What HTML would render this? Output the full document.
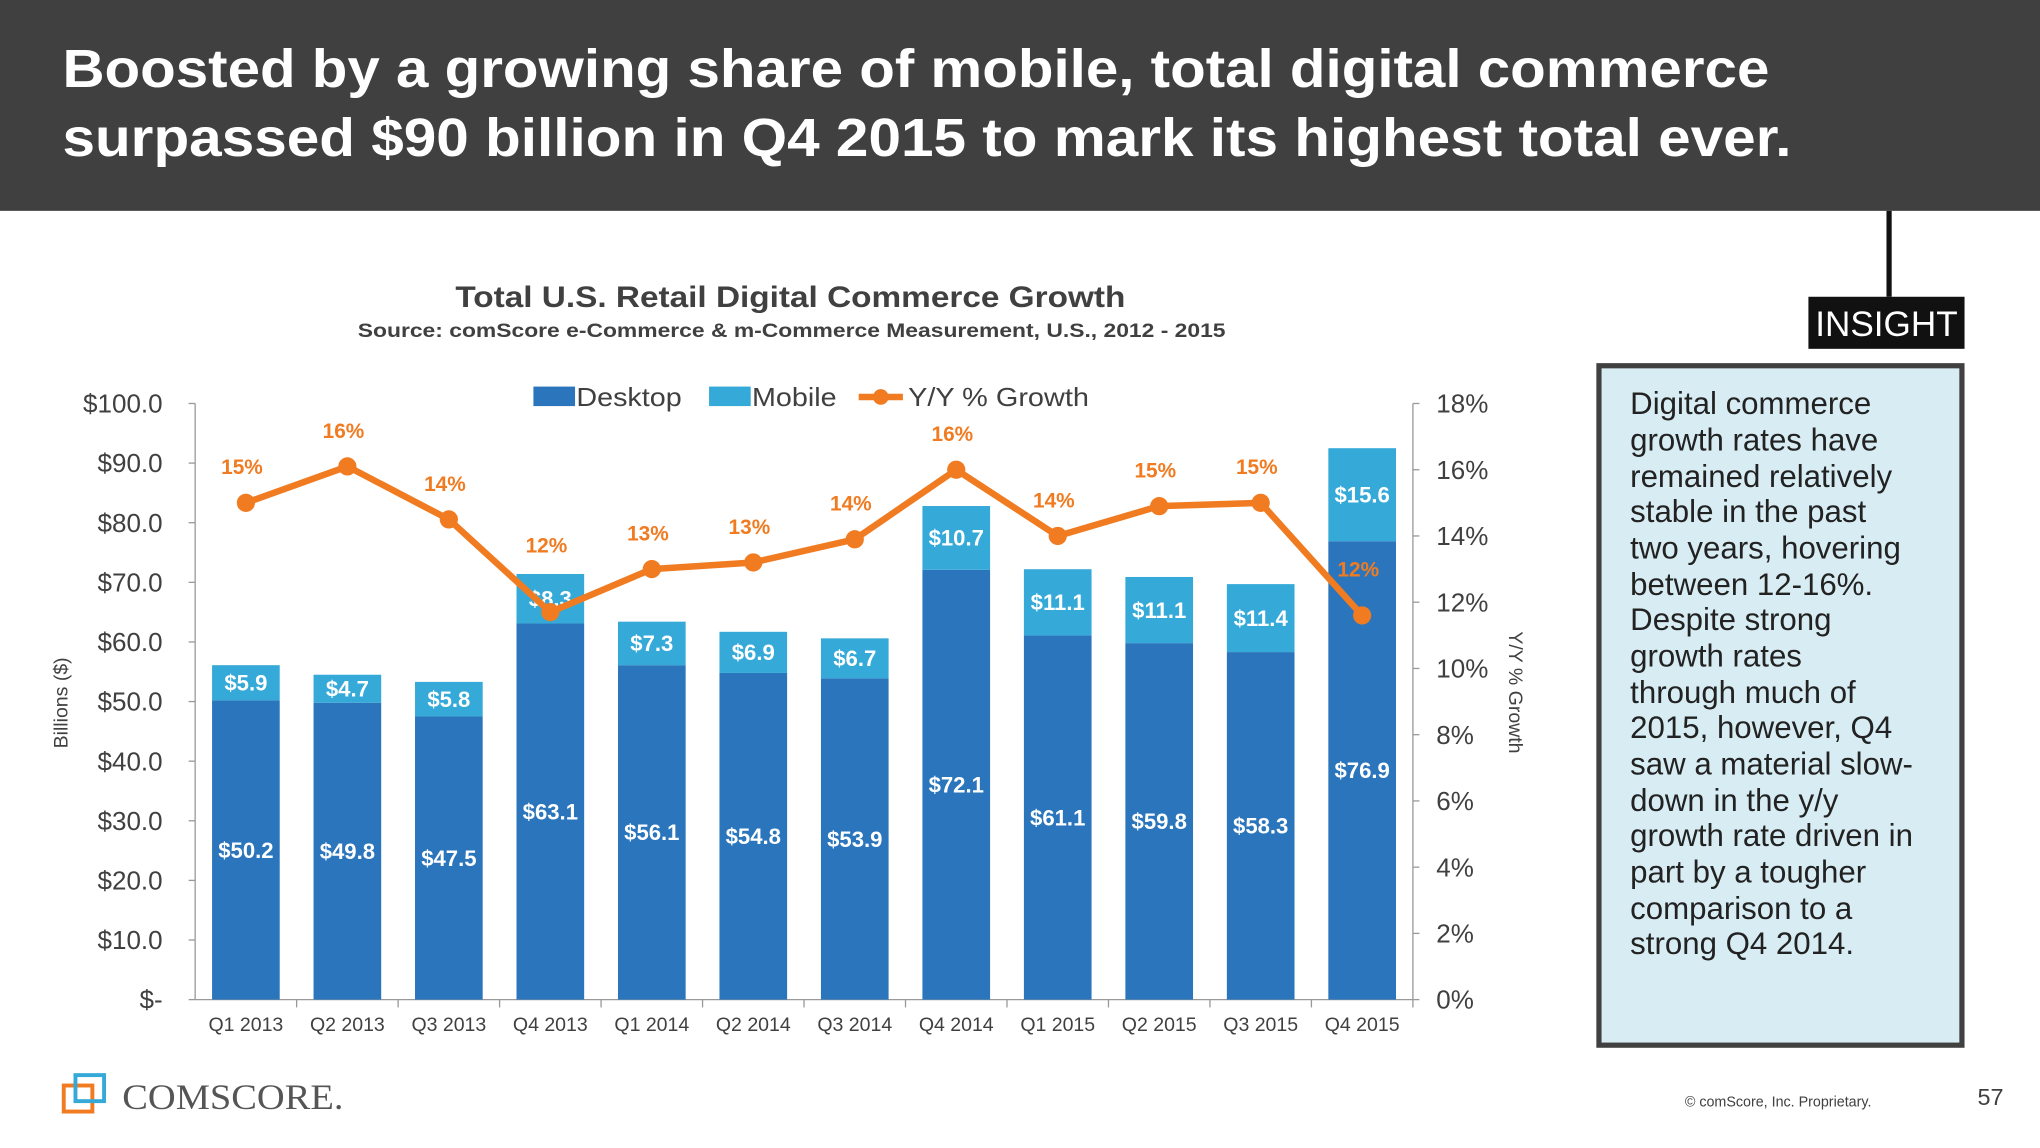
<!DOCTYPE html>
<html><head><meta charset="utf-8"><style>
html,body{margin:0;padding:0;background:#fff;}
svg{display:block;font-family:"Liberation Sans",Arial,sans-serif;}
</style></head><body>
<svg id="s" width="2040" height="1148" viewBox="0 0 1568 882" preserveAspectRatio="none">
<rect x="0" y="0" width="1568" height="162" fill="#404040"/>
<text x="48" y="67" font-size="41" font-weight="bold" fill="#fff" textLength="1312" lengthAdjust="spacingAndGlyphs">Boosted by a growing share of mobile, total digital commerce</text>
<text x="48" y="120" font-size="41" font-weight="bold" fill="#fff" textLength="1329" lengthAdjust="spacingAndGlyphs">surpassed $90 billion in Q4 2015 to mark its highest total ever.</text>
<text x="350" y="236" font-size="23" font-weight="bold" fill="#404040" textLength="515" lengthAdjust="spacingAndGlyphs">Total U.S. Retail Digital Commerce Growth</text>
<text x="275" y="259" font-size="15" font-weight="bold" fill="#404040" textLength="667" lengthAdjust="spacingAndGlyphs">Source: comScore e-Commerce &amp; m-Commerce Measurement, U.S., 2012 - 2015</text>
<g id="chart"></g>
<g>
<rect x="410" y="297" width="32" height="15" fill="#2a75bb"/>
<text x="443" y="312" font-size="20" fill="#404040" textLength="81" lengthAdjust="spacingAndGlyphs">Desktop</text>
<rect x="545" y="297" width="32" height="15" fill="#35a9d8"/>
<text x="578" y="312" font-size="20" fill="#404040" textLength="65" lengthAdjust="spacingAndGlyphs">Mobile</text>
<line x1="660" y1="305" x2="694" y2="305" stroke="#f07b21" stroke-width="5"/>
<circle cx="677" cy="305" r="6" fill="#f07b21"/>
<text x="698" y="312" font-size="20" fill="#404040" textLength="139" lengthAdjust="spacingAndGlyphs">Y/Y % Growth</text>
</g>
<text transform="translate(52,540) rotate(-90)" font-size="15" fill="#404040" text-anchor="middle">Billions ($)</text>
<text transform="translate(1160,532) rotate(90)" font-size="15" fill="#404040" text-anchor="middle">Y/Y % Growth</text>
<line x1="1452" y1="162" x2="1452" y2="228" stroke="#111" stroke-width="4"/>
<rect x="1390" y="228" width="120" height="40" fill="#111"/>
<text x="1450" y="258" font-size="27" fill="#fff" text-anchor="middle">INSIGHT</text>
<rect x="1229" y="281" width="279" height="522" fill="#d7ecf3" stroke="#404040" stroke-width="4"/>
<text font-size="24" fill="#222">
<tspan x="1253" y="318">Digital commerce</tspan><tspan x="1253" y="346">growth rates have</tspan><tspan x="1253" y="374">remained relatively</tspan><tspan x="1253" y="401">stable in the past</tspan><tspan x="1253" y="429">two years, hovering</tspan><tspan x="1253" y="457">between 12-16%.</tspan><tspan x="1253" y="484">Despite strong</tspan><tspan x="1253" y="512">growth rates</tspan><tspan x="1253" y="540">through much of</tspan><tspan x="1253" y="567">2015, however, Q4</tspan><tspan x="1253" y="595">saw a material slow-</tspan><tspan x="1253" y="623">down in the y/y</tspan><tspan x="1253" y="650">growth rate driven in</tspan><tspan x="1253" y="678">part by a tougher</tspan><tspan x="1253" y="706">comparison to a</tspan><tspan x="1253" y="733">strong Q4 2014.</tspan>
</text>
<g>
<rect x="49" y="834" width="22" height="20" fill="none" stroke="#f07b21" stroke-width="3"/>
<rect x="58" y="826" width="22" height="20" fill="none" stroke="#35a9d8" stroke-width="3"/>
<text x="94" y="852" font-size="28" fill="#555" font-family="Liberation Serif,serif" textLength="170" lengthAdjust="spacingAndGlyphs">COMSCORE.</text>
</g>
<text x="1295" y="850" font-size="11" fill="#404040">© comScore, Inc. Proprietary.</text>
<text x="1540" y="849" font-size="18" fill="#404040" text-anchor="end">57</text>
</svg>
<script>
const categories=["Q1 2013","Q2 2013","Q3 2013","Q4 2013","Q1 2014","Q2 2014","Q3 2014","Q4 2014","Q1 2015","Q2 2015","Q3 2015","Q4 2015"];
const desktop=[50.2,49.8,47.5,63.1,56.1,54.8,53.9,72.1,61.1,59.8,58.3,76.9];
const mobile=[5.9,4.7,5.8,8.3,7.3,6.9,6.7,10.7,11.1,11.1,11.4,15.6];
const growth=[15.0,16.1,14.5,11.7,13.0,13.2,13.9,16.0,14.0,14.9,15.0,11.6];
const growthLabels=["15%","16%","14%","12%","13%","13%","14%","16%","14%","15%","15%","12%"];
const leftTicks=["$-","$10.0","$20.0","$30.0","$40.0","$50.0","$60.0","$70.0","$80.0","$90.0","$100.0"];
const rightTicks=["0%","2%","4%","6%","8%","10%","12%","14%","16%","18%"];
const NS="http://www.w3.org/2000/svg";
const g=document.getElementById('chart');
const X0=150,X1=1086,Y0=768,Y1=310;
const bw=(X1-X0)/categories.length;
const y=v=>Y0-(v/100)*(Y0-Y1);
const y2=v=>Y0-(v/18)*(Y0-Y1);
const xc=i=>X0+bw*(i+0.5);
function mk(t,a){const e=document.createElementNS(NS,t);for(const k in a)e.setAttribute(k,a[k]);g.appendChild(e);return e;}
let e;
e=mk('line',{x1:X0,y1:Y1,x2:X0,y2:Y0,stroke:'#999'});


e=mk('line',{x1:X1,y1:Y1,x2:X1,y2:Y0,stroke:'#999'});


e=mk('line',{x1:X0,y1:Y0,x2:X1,y2:Y0,stroke:'#999'});


leftTicks.forEach((t,i)=>{const v=i*10;
 mk('line',{x1:X0-5,y1:y(v),x2:X0,y2:y(v),stroke:'#999'});
 e=mk('text',{x:125,y:y(v)+7,'font-size':20,fill:'#404040','text-anchor':'end'});e.textContent=t;
 
 });
rightTicks.forEach((t,i)=>{const v=i*2;
 mk('line',{x1:X1,y1:y2(v),x2:X1+5,y2:y2(v),stroke:'#999'});
 e=mk('text',{x:1104,y:y2(v)+7,'font-size':20,fill:'#404040'});e.textContent=t;
 
 });
categories.forEach((c,i)=>{
 mk('line',{x1:X0+bw*(i+1),y1:Y0,x2:X0+bw*(i+1),y2:Y0+6,stroke:'#999'});
 e=mk('text',{x:xc(i),y:792,'font-size':15,fill:'#404040','text-anchor':'middle'});e.textContent=c;
 
 
 const bx=xc(i)-26,w=52;
 e=mk('rect',{x:bx,y:y(desktop[i]),width:w,height:Y0-y(desktop[i]),fill:'#2a75bb'});
 
 
 const tot=desktop[i]+mobile[i];
 e=mk('rect',{x:bx,y:y(tot),width:w,height:y(desktop[i])-y(tot),fill:'#35a9d8'});
 
 
 e=mk('text',{x:xc(i),y:(y(desktop[i])+Y0)/2+6,'font-size':17,'font-weight':'bold',fill:'#fff','text-anchor':'middle'});e.textContent='$'+desktop[i].toFixed(1);
 
 
 e=mk('text',{x:xc(i),y:(y(tot)+y(desktop[i]))/2+6,'font-size':17,'font-weight':'bold',fill:'#fff','text-anchor':'middle'});e.textContent='$'+mobile[i].toFixed(1);
 
 
});
e=mk('polyline',{points:growth.map((v,i)=>xc(i)+','+y2(v)).join(' '),fill:'none',stroke:'#f07b21','stroke-width':5,'stroke-linejoin':'round'});


growth.forEach((v,i)=>{
 e=mk('circle',{cx:xc(i),cy:y2(v),r:7,fill:'#f07b21'});
 
 
 const off=(i===3)?46:(i===categories.length-1?30:22);
 e=mk('text',{x:xc(i)-3,y:y2(v)-off,'font-size':16,'font-weight':'bold',fill:'#f07b21','text-anchor':'middle'});e.textContent=growthLabels[i];
 
 
});
</script>
</body></html>
